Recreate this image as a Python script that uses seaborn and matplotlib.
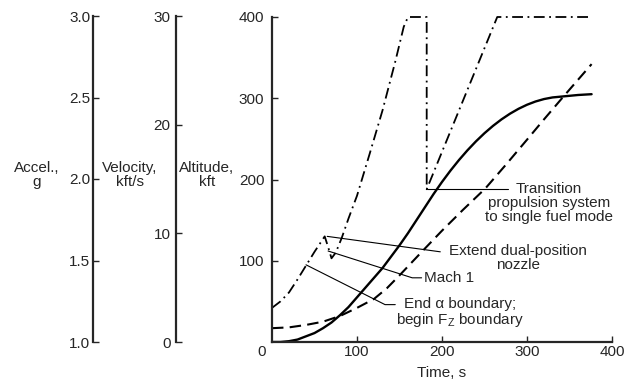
import seaborn as sns
import matplotlib
matplotlib.use("Agg")
from matplotlib import pyplot as plt
from matplotlib import transforms

# values
t_solid = [0, 10, 20, 30, 40, 50, 60, 70, 80, 90, 100, 110, 120, 130, 140, 150, 160, 170,
           180, 190, 200, 210, 220, 230, 240, 250, 260, 270, 280, 290, 300, 310, 320, 330,
           340, 350, 360, 376]
y_solid = [0, 0, 1, 3, 7, 11, 17, 24, 33, 43, 55, 67, 79, 91, 105, 119, 134, 150,
           166, 182, 197, 211, 224, 236, 247, 257, 266, 274, 281, 287, 292, 296, 299, 301,
           302, 303, 304, 305]

t_dash = [0, 20, 40, 60, 80, 100, 120, 135, 150, 178, 200, 225, 251, 275, 300, 320, 342, 376]
y_dash = [17, 18, 21, 25, 32, 42, 53, 66, 82, 113, 137, 163, 189, 218, 249, 274, 301, 342]

t_dashdot = [0, 10, 20, 30, 40, 50, 62, 66, 70, 75, 82, 90, 100, 115, 130, 145, 155, 160,
             182, 182, 265, 376]
y_dashdot = [42, 50, 61, 77, 94, 111, 130, 117, 103, 110, 128, 152, 180, 232, 285, 345, 388, 400,
             400, 188, 400, 400]

accel_ticks = [1.0, 1.5, 2.0, 2.5, 3.0]
alt_ticks = [0, 10, 20, 30]
time_ticks = [0, 100, 200, 300, 400]
main_yticks = [100, 200, 300, 400]

# callouts: leader line (x, y) and text
notes = [
    ([182, 278], [188, 188], "Transition\npropulsion system\nto single fuel mode", 326, 197.5, "center"),
    ([65, 198], [130, 111], "Extend dual-position\nnozzle", 289, 121, "center"),
    ([66, 165, 176], [112, 79, 79], "Mach 1", 179, 79, "left"),
    ([40, 133, 145], [95, 46, 46], "End \u03b1 boundary;\nbegin F$_{Z}$ boundary", 221, 55.5, "center"),
]

sns.set_style("ticks")
plt.rcParams['font.family'] = ['Liberation Sans', 'DejaVu Sans']
plt.rcParams['mathtext.default'] = 'regular'
plt.rcParams['font.size'] = 11

W, H = 634, 385
fig = plt.figure(figsize=(W / 100, H / 100), dpi=100)

ax = fig.add_axes([272 / W, 43 / H, 340 / W, 325 / H])
sns.lineplot(x=t_solid, y=y_solid, ax=ax, color="k", lw=1.7, sort=False, estimator=None)
sns.lineplot(x=t_dash, y=y_dash, ax=ax, color="k", lw=1.5, linestyle=(0, (5.5, 3)),
             sort=False, estimator=None)
sns.lineplot(x=t_dashdot, y=y_dashdot, ax=ax, color="k", lw=1.3,
             linestyle=(0, (6, 2.5, 1, 2.5)), sort=False, estimator=None, clip_on=False)

for lx, ly, txt, tx, ty, ha in notes:
    ax.plot(lx, ly, color="k", lw=0.8)
    ax.text(tx, ty, txt, ha=ha, va="top" if ha == "center" else "center",
            multialignment="center", linespacing=1.0, fontsize=11)

ax.set_xlim(0, 400)
ax.set_ylim(0, 400)
ax.set_xticks(time_ticks)
ax.set_yticks(main_yticks)
sns.despine(ax=ax)
for s in ["left", "bottom"]:
    ax.spines[s].set_linewidth(1.6)
ax.tick_params(direction="in", length=4, width=1, labelsize=11)
ax.tick_params(axis="x", pad=2)
ax.tick_params(axis="y", pad=5.5)
ax.set_xlabel("Time, s", fontsize=11, labelpad=5)
zero = ax.xaxis.get_major_ticks()[0]
zero.tick1line.set_visible(False)
zero.label1.set_transform(zero.label1.get_transform()
                          + transforms.ScaledTranslation(-0.10, 0, fig.dpi_scale_trans))


def side_axis(xpix, lo, hi, ticks, labels, pad):
    a = fig.add_axes([xpix / W, 43 / H, 0.0005, 326 / H])
    a.set_facecolor("none")
    a.set_ylim(lo, hi)
    a.set_yticks(ticks)
    a.set_yticklabels(labels)
    a.xaxis.set_visible(False)
    for s in ["top", "right", "bottom"]:
        a.spines[s].set_visible(False)
    a.spines["left"].set_linewidth(1.6)
    a.tick_params(direction="in", length=4, width=1, labelsize=11, pad=pad)
    return a


side_axis(93, 1.0, 3.0, accel_ticks, [f"{v:.1f}" for v in accel_ticks], 2)
side_axis(176, 0, 30, alt_ticks, [str(v) for v in alt_ticks], 4)

fig.text(37 / W, 1 - 175 / H, "Accel.,\ng", ha="center", va="center", linespacing=1.0)
fig.text(130 / W, 1 - 175 / H, "Velocity,\nkft/s", ha="center", va="center", linespacing=1.0)
fig.text(207 / W, 1 - 175 / H, "Altitude,\nkft", ha="center", va="center", linespacing=1.0)

fig.savefig("out.png", dpi=100)
